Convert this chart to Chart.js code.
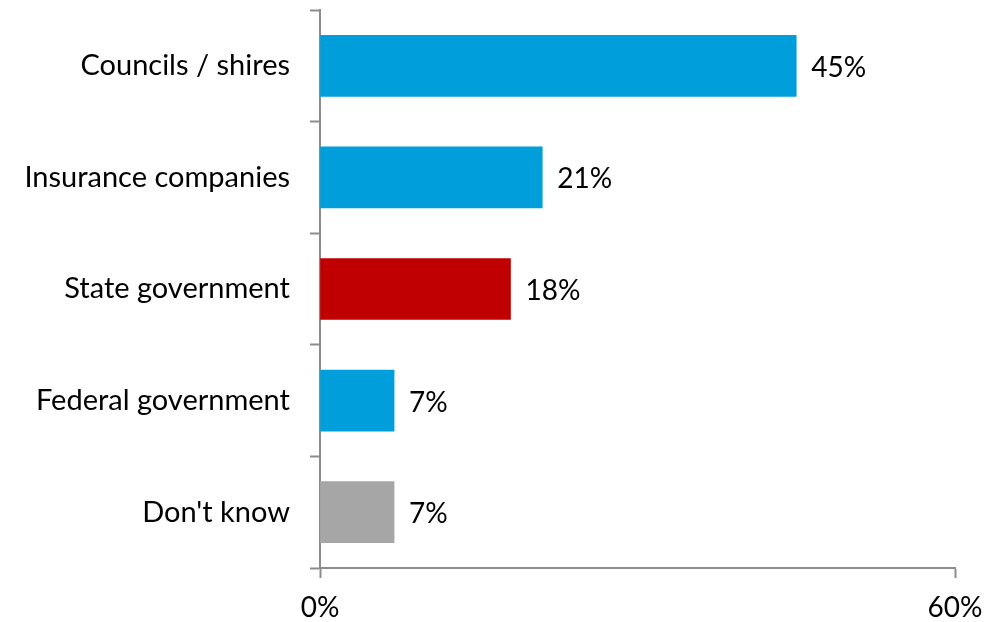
<!DOCTYPE html>
<html>
<head>
<meta charset="utf-8">
<script src="https://cdn.jsdelivr.net/npm/chart.js@4"></script>
<style>
    html, body { margin: 0; padding: 0; background: #fff; }
    #wrap { width: 985px; height: 622px; }
</style>
</head>
<body>
<div id="wrap"><canvas id="canvas"></canvas></div>
<script>
"use strict"

/* Data */
let categories = ["Councils / shires", "Insurance companies", "State government", "Federal government", "Don't know"];
let shares = [45, 21, 18, 7, 7];
let xTicks = [0, 60];

/* Colors */
let blue = "#009fdb";
let red = "#c00000";
let grey = "#a6a6a6";
let axisGrey = "#8c8c8c";
let barColors = [blue, blue, red, blue, grey];

let fontFamily = "Lato, 'Open Sans', sans-serif";
let fontSize = 28;

// writes "NN%" just past the end of each bar
const valueLabels = {
    id: "valueLabels",
    afterDatasetsDraw(chart) {
        const ctx = chart.ctx;
        const meta = chart.getDatasetMeta(0);
        ctx.save();
        ctx.font = fontSize + "px " + fontFamily;
        ctx.fillStyle = "#000";
        ctx.textAlign = "left";
        ctx.textBaseline = "middle";
        meta.data.forEach((bar, i) => {
            ctx.fillText(shares[i] + "%", bar.x + 15, bar.y + 2);
        });
        ctx.restore();
    }
};

// fixed axis sizes, no extra label padding around the plot
function fixSize(size) {
    return scale => {
        if (scale.isHorizontal()) scale.height = size;
        else scale.width = size;
        scale.paddingTop = 0;
        scale.paddingBottom = 0;
        scale.paddingLeft = 0;
        scale.paddingRight = 0;
    };
}

function createChart() {
    const canvas = document.getElementById("canvas").getContext("2d");
    const myChart = new Chart(canvas, {
        type: "bar",
        data: {
            labels: categories,
            datasets: [{
                data: shares,
                backgroundColor: barColors,
                barThickness: 61,
                borderWidth: 0
            }]
        },
        options: {
            indexAxis: "y",
            responsive: true,
            maintainAspectRatio: false,
            animation: false,
            layout: {
                padding: { top: 10, right: 30, left: 0, bottom: 0 }
            },
            scales: {
                y: {
                    afterFit: fixSize(320),
                    grid: {
                        offset: true,
                        drawOnChartArea: false,
                        tickLength: 10,
                        tickWidth: 2,
                        color: axisGrey
                    },
                    border: { color: axisGrey, width: 2 },
                    ticks: {
                        color: "#000",
                        padding: 20,
                        font: { family: fontFamily, size: 29 }
                    }
                },
                x: {
                    min: xTicks[0],
                    max: xTicks[xTicks.length - 1],
                    afterFit: fixSize(54),
                    afterBuildTicks: scale => {
                        scale.ticks = xTicks.map(v => ({ value: v }));
                    },
                    grid: {
                        drawOnChartArea: false,
                        tickLength: 10,
                        tickWidth: 2,
                        color: axisGrey
                    },
                    border: { color: axisGrey, width: 2 },
                    ticks: {
                        color: "#000",
                        padding: 13,
                        maxRotation: 0,
                        font: { family: fontFamily, size: fontSize },
                        callback: v => v + "%"
                    }
                }
            },
            plugins: {
                legend: { display: false },
                tooltip: { enabled: false }
            }
        },
        plugins: [valueLabels]
    });
}

createChart();
</script>
</body>
</html>
